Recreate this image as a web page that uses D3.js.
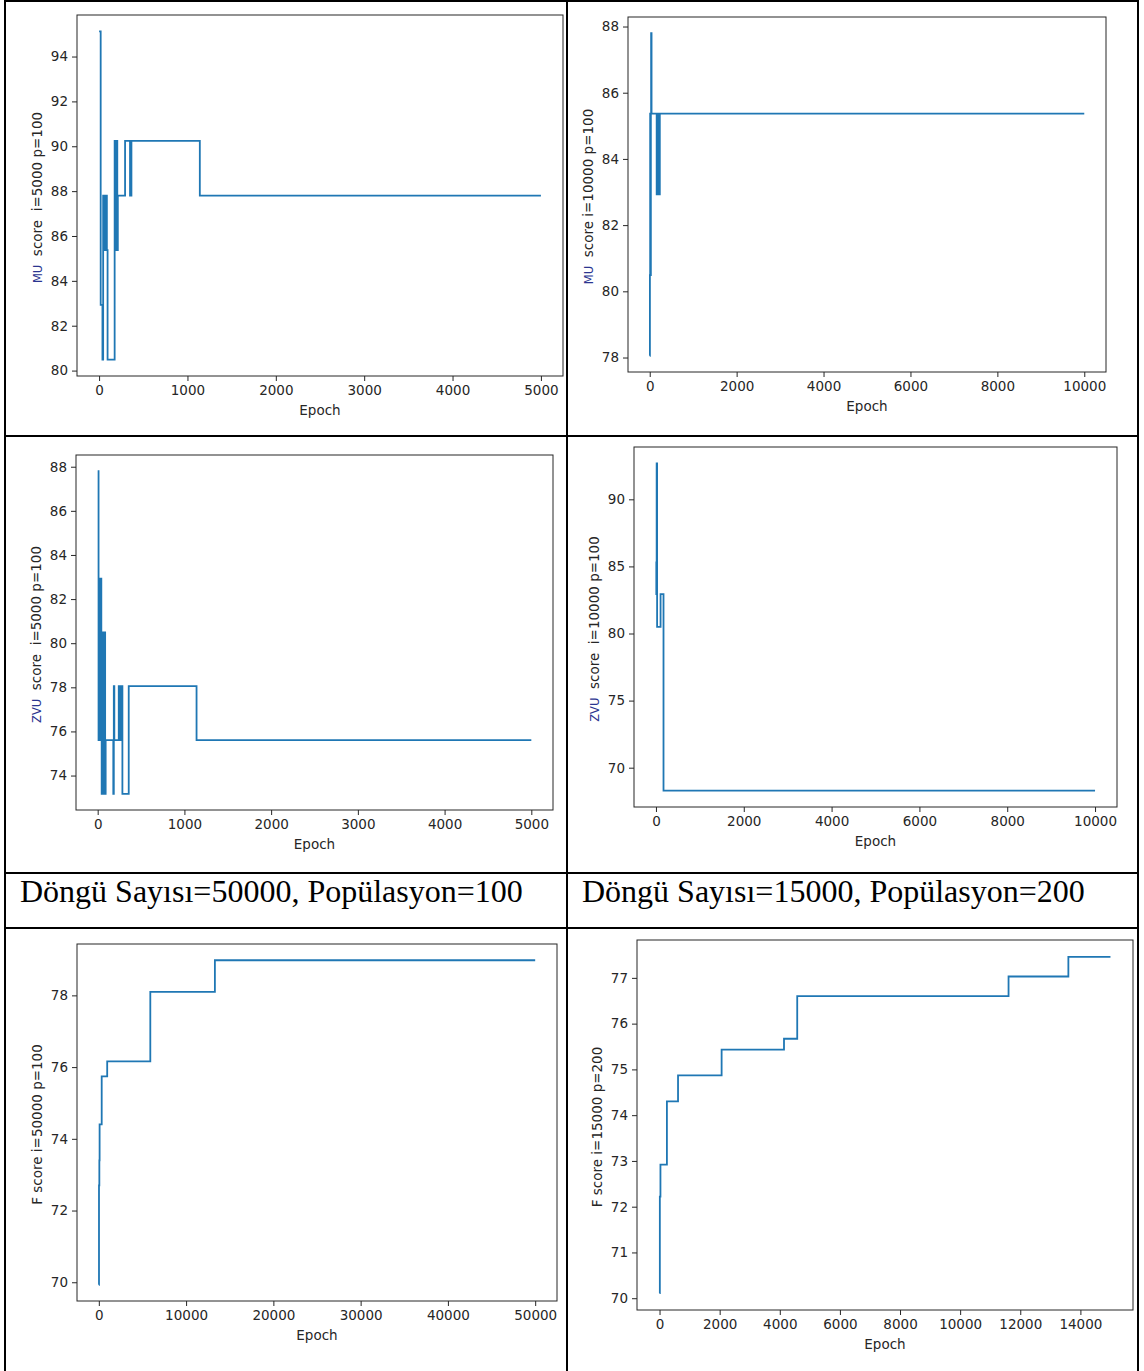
<!DOCTYPE html>
<html>
<head>
<meta charset="utf-8">
<script src="https://cdn.jsdelivr.net/npm/d3@7"></script>
<style>
  body { margin: 0; background: #fff; }
  svg text { font-family: "DejaVu Sans", sans-serif; }
</style>
</head>
<body>
<div id="chart"></div>
<script>
// ---- data (epoch where the score changes, score) ----
const muEpochsA = [0, 18, 38, 46, 52, 58, 64, 70, 76, 82, 88, 96, 176, 182, 188, 194, 200, 206, 212, 294, 350, 366, 1140, 5000]
const muScoresA = [95.12, 82.93, 80.49, 87.80, 85.37, 87.80, 85.37, 87.80, 85.37, 87.80, 85.37, 80.49, 90.24, 85.37, 90.24, 85.37, 90.24, 85.37, 87.80, 90.24, 87.80, 90.24, 87.80, 87.80]

const muEpochsB = [0, 4, 10, 14, 18, 22, 26, 32, 42, 160, 168, 176, 184, 192, 200, 208, 216, 224, 232, 10000]
const muScoresB = [78.05, 80.49, 85.37, 80.49, 85.37, 80.49, 85.37, 87.80, 85.37, 82.93, 85.37, 82.93, 85.37, 82.93, 85.37, 82.93, 85.37, 82.93, 85.37, 85.37]

const zvuEpochsA = [0, 10, 14, 18, 22, 26, 30, 34, 38, 42, 46, 50, 54, 58, 62, 66, 70, 74, 78, 82, 86, 92, 180, 186, 192, 243, 262, 266, 285, 358, 1140, 5000]
const zvuScoresA = [87.80, 75.61, 82.93, 75.61, 82.93, 78.05, 82.93, 75.61, 82.93, 80.49, 73.17, 80.49, 73.17, 80.49, 73.17, 80.49, 73.17, 80.49, 73.17, 80.49, 73.17, 75.61, 73.17, 78.05, 75.61, 78.05, 75.61, 78.05, 73.17, 78.05, 75.61, 75.61]

const zvuEpochsB = [0, 8, 16, 26, 105, 172, 10000]
const zvuScoresB = [85.37, 82.93, 92.68, 80.49, 82.93, 68.29, 68.29]

const fEpochsA = [0, 20, 60, 90, 330, 960, 5900, 13300, 50000]
const fScoresA = [69.93, 72.70, 73.40, 74.40, 75.74, 76.16, 78.10, 78.98, 78.98]

const fEpochsB = [0, 10, 30, 245, 615, 2065, 4140, 4580, 11610, 13600, 15000]
const fScoresB = [70.11, 72.22, 72.92, 74.30, 74.87, 75.43, 75.67, 76.60, 77.03, 77.46, 77.46]

// tick labels
const xTicks5k = [0, 1000, 2000, 3000, 4000, 5000]
const xTicks10k = [0, 2000, 4000, 6000, 8000, 10000]
const xTicks50k = [0, 10000, 20000, 30000, 40000, 50000]
const xTicks15k = [0, 2000, 4000, 6000, 8000, 10000, 12000, 14000]
const yTicksMuA = [80, 82, 84, 86, 88, 90, 92, 94]
const yTicksMuB = [78, 80, 82, 84, 86, 88]
const yTicksZvuA = [74, 76, 78, 80, 82, 84, 86, 88]
const yTicksZvuB = [70, 75, 80, 85, 90]
const yTicksFA = [70, 72, 74, 76, 78]
const yTicksFB = [70, 71, 72, 73, 74, 75, 76, 77]

const captions = ["Döngü Sayısı=50000, Popülasyon=100", "Döngü Sayısı=15000, Popülasyon=200"]

const W = 1144, H = 1371
const LINE = "#1f77b4"
const INK = "#262626"

const svg = d3.select("#chart").append("svg")
    .attr("width", W)
    .attr("height", H)
svg.append("rect").attr("width", W).attr("height", H).attr("fill", "#fff")

// panel layout (plot frame in page pixels)
const panels = [
  { ep: muEpochsA, sc: muScoresA, xt: xTicks5k, yt: yTicksMuA, pre: "MU", label: "  score  i=5000 p=100",
    L: 77, T: 15, R: 563, B: 376 },
  { ep: muEpochsB, sc: muScoresB, xt: xTicks10k, yt: yTicksMuB, pre: "MU", label: "  score i=10000 p=100",
    L: 628, T: 17, R: 1106, B: 372 },
  { ep: zvuEpochsA, sc: zvuScoresA, xt: xTicks5k, yt: yTicksZvuA, pre: "ZVU", label: "  score  i=5000 p=100",
    L: 76, T: 455, R: 553, B: 810 },
  { ep: zvuEpochsB, sc: zvuScoresB, xt: xTicks10k, yt: yTicksZvuB, pre: "ZVU", label: "  score  i=10000 p=100",
    L: 634, T: 447, R: 1117, B: 807 },
  { ep: fEpochsA, sc: fScoresA, xt: xTicks50k, yt: yTicksFA, pre: "", label: "F score i=50000 p=100",
    L: 77, T: 944, R: 557, B: 1301 },
  { ep: fEpochsB, sc: fScoresB, xt: xTicks15k, yt: yTicksFB, pre: "", label: "F score i=15000 p=200",
    L: 637, T: 940, R: 1133, B: 1310 }
]

panels.forEach(p => {
  const pts = p.ep.map((e, i) => [e, p.sc[i]])
  const xMax = d3.max(p.ep)
  const [yMin, yMax] = d3.extent(p.sc)
  const yPad = (yMax - yMin) * 0.05

  // matplotlib style 5% margins
  const x = d3.scaleLinear().domain([-0.05 * xMax, 1.05 * xMax]).range([p.L, p.R])
  const y = d3.scaleLinear().domain([yMin - yPad, yMax + yPad]).range([p.B, p.T])

  const g = svg.append("g")

  const xAxis = g.append("g")
      .attr("transform", `translate(0, ${p.B})`)
      .call(d3.axisBottom(x).tickValues(p.xt).tickSize(5).tickPadding(4).tickFormat(d3.format("d")))
  const yAxis = g.append("g")
      .attr("transform", `translate(${p.L}, 0)`)
      .call(d3.axisLeft(y).tickValues(p.yt).tickSize(5).tickPadding(4).tickFormat(d3.format("d")))

  ;[xAxis, yAxis].forEach(a => {
    a.select(".domain").remove()
    a.selectAll("line").attr("stroke", INK).attr("stroke-width", 1)
    a.selectAll("text").attr("fill", INK).attr("font-size", 13.5).attr("font-family", "DejaVu Sans")
  })

  const line = d3.line()
      .x(d => x(d[0]))
      .y(d => y(d[1]))
      .curve(d3.curveStepAfter)

  g.append("path")
      .datum(pts)
      .attr("d", line)
      .attr("fill", "none")
      .attr("stroke", LINE)
      .attr("stroke-width", 1.8)

  // frame
  g.append("rect")
      .attr("x", p.L).attr("y", p.T)
      .attr("width", p.R - p.L).attr("height", p.B - p.T)
      .attr("fill", "none")
      .attr("stroke", INK)
      .attr("stroke-width", 1)

  g.append("text")
      .attr("x", (p.L + p.R) / 2)
      .attr("y", p.B + 39)
      .attr("text-anchor", "middle")
      .attr("font-size", 13.5)
      .attr("fill", INK)
      .text("Epoch")

  const yl = g.append("text")
      .attr("transform", `translate(${p.L - 35}, ${(p.T + p.B) / 2 + 2}) rotate(-90)`)
      .attr("text-anchor", "middle")
      .attr("font-size", 13.5)
      .attr("fill", INK)
      .attr("xml:space", "preserve")
      .style("white-space", "pre")
  if (p.pre) {
    yl.append("tspan").attr("fill", "#2b3590").attr("font-size", 11.5).text(p.pre)
  }
  yl.append("tspan").text(p.label)
})

// caption row
svg.selectAll("text.caption")
  .data(captions)
  .enter().append("text")
    .attr("class", "caption")
    .attr("x", (d, i) => i === 0 ? 20 : 582)
    .attr("y", 902)
    .attr("font-size", 32)
    .style("font-family", "'Liberation Serif', 'Times New Roman', serif")
    .attr("fill", "#000")
    .text(d => d)

// table grid
const vLines = [5, 567, 1138]
const hLines = [1, 436, 873, 928]
svg.selectAll("line.vgrid").data(vLines).enter().append("line")
    .attr("x1", d => d).attr("x2", d => d)
    .attr("y1", 0).attr("y2", H)
    .attr("stroke", "#000").attr("stroke-width", 2)
svg.selectAll("line.hgrid").data(hLines).enter().append("line")
    .attr("x1", 4).attr("x2", 1139)
    .attr("y1", d => d).attr("y2", d => d)
    .attr("stroke", "#000").attr("stroke-width", 2)
</script>
</body>
</html>
